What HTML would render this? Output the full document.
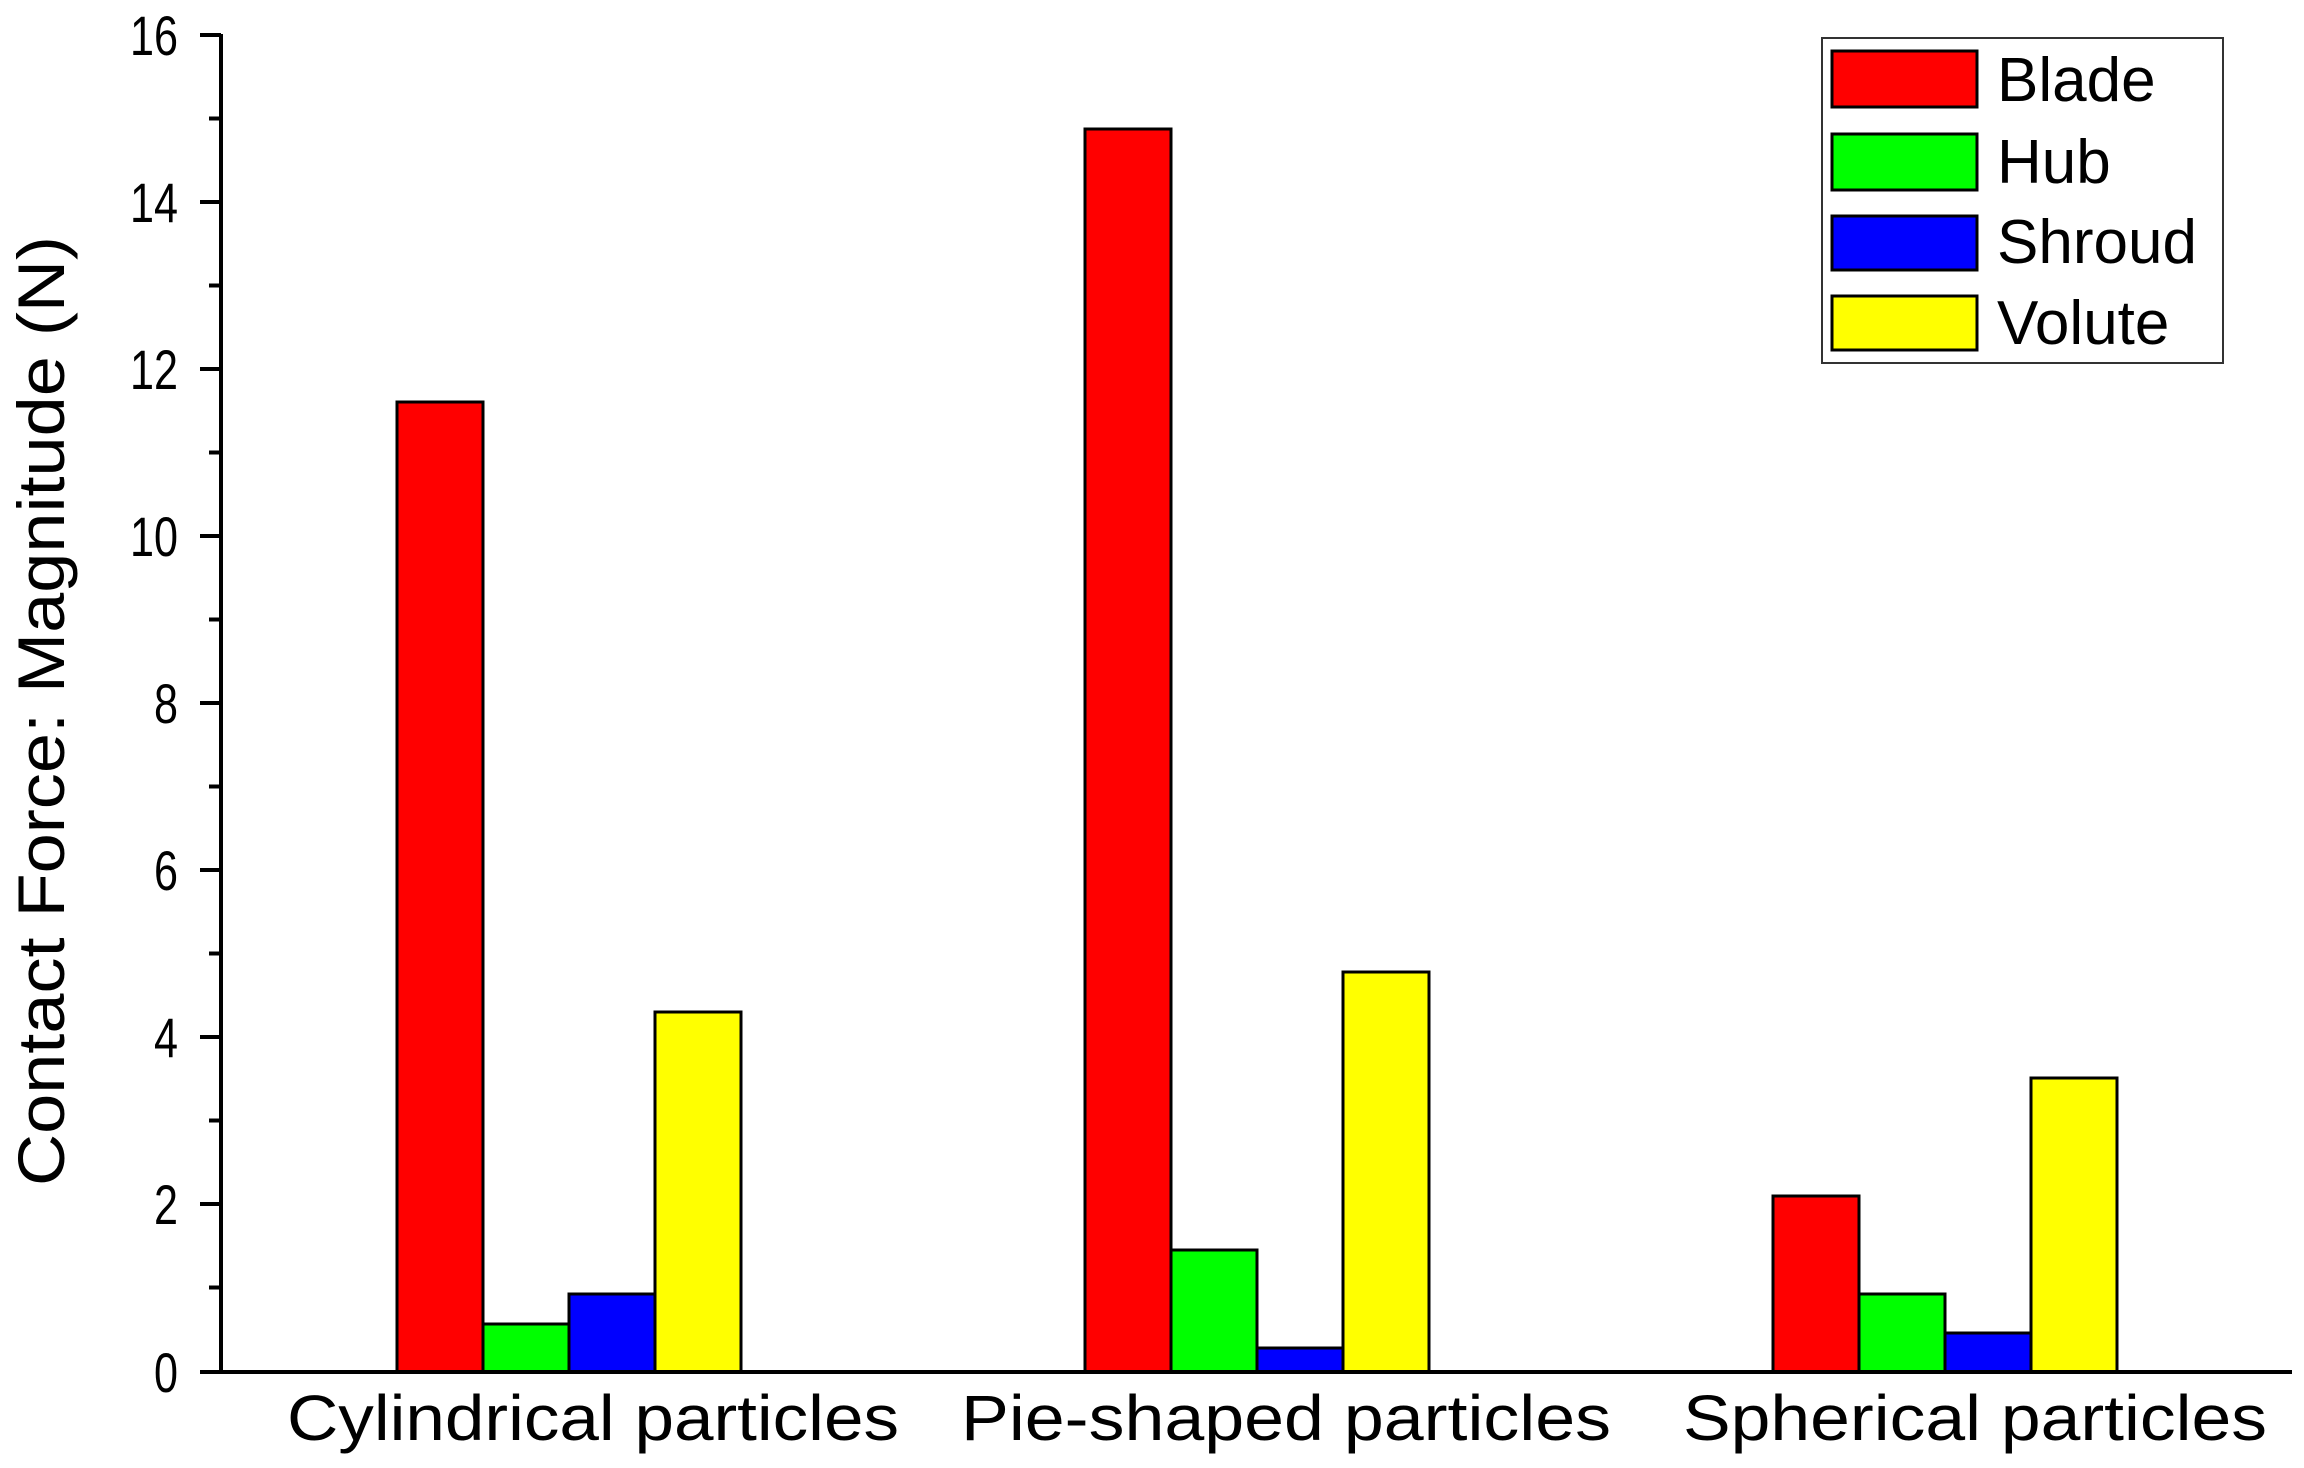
<!DOCTYPE html>
<html><head><meta charset="utf-8"><style>html,body{margin:0;padding:0;background:#fff}svg{display:block}</style></head>
<body>
<svg width="2304" height="1468" viewBox="0 0 2304 1468" xmlns="http://www.w3.org/2000/svg" font-family="Liberation Sans, Arial, sans-serif">
<rect width="2304" height="1468" fill="#fff"/>
<g stroke="#000" stroke-width="3">
<rect x="397" y="402" width="86" height="970" fill="#ff0000"/>
<rect x="483" y="1324" width="86" height="48" fill="#00ff00"/>
<rect x="569" y="1294" width="86" height="78" fill="#0000ff"/>
<rect x="655" y="1012" width="86" height="360" fill="#ffff00"/>
<rect x="1085" y="129" width="86" height="1243" fill="#ff0000"/>
<rect x="1171" y="1250" width="86" height="122" fill="#00ff00"/>
<rect x="1257" y="1348" width="86" height="24" fill="#0000ff"/>
<rect x="1343" y="972" width="86" height="400" fill="#ffff00"/>
<rect x="1773" y="1196" width="86" height="176" fill="#ff0000"/>
<rect x="1859" y="1294" width="86" height="78" fill="#00ff00"/>
<rect x="1945" y="1333" width="86" height="39" fill="#0000ff"/>
<rect x="2031" y="1078" width="86" height="294" fill="#ffff00"/>
</g>
<g stroke="#000" stroke-width="4" fill="none">
<line x1="221" y1="34" x2="221" y2="1374"/>
<line x1="200" y1="1372" x2="2292" y2="1372"/>
<line x1="200" y1="35" x2="221" y2="35"/><line x1="209" y1="118.5" x2="221" y2="118.5"/>
<line x1="200" y1="202" x2="221" y2="202"/><line x1="209" y1="285.5" x2="221" y2="285.5"/>
<line x1="200" y1="369" x2="221" y2="369"/><line x1="209" y1="452.5" x2="221" y2="452.5"/>
<line x1="200" y1="536" x2="221" y2="536"/><line x1="209" y1="619.5" x2="221" y2="619.5"/>
<line x1="200" y1="703" x2="221" y2="703"/><line x1="209" y1="786.5" x2="221" y2="786.5"/>
<line x1="200" y1="870" x2="221" y2="870"/><line x1="209" y1="953.5" x2="221" y2="953.5"/>
<line x1="200" y1="1037" x2="221" y2="1037"/><line x1="209" y1="1120.5" x2="221" y2="1120.5"/>
<line x1="200" y1="1204" x2="221" y2="1204"/><line x1="209" y1="1287.5" x2="221" y2="1287.5"/>
</g>
<g font-size="56" text-anchor="end" fill="#000">
<text x="178" y="55" textLength="48" lengthAdjust="spacingAndGlyphs">16</text>
<text x="178" y="222" textLength="48" lengthAdjust="spacingAndGlyphs">14</text>
<text x="178" y="389" textLength="48" lengthAdjust="spacingAndGlyphs">12</text>
<text x="178" y="556" textLength="48" lengthAdjust="spacingAndGlyphs">10</text>
<text x="178" y="723" textLength="24" lengthAdjust="spacingAndGlyphs">8</text>
<text x="178" y="890" textLength="24" lengthAdjust="spacingAndGlyphs">6</text>
<text x="178" y="1057" textLength="24" lengthAdjust="spacingAndGlyphs">4</text>
<text x="178" y="1224" textLength="24" lengthAdjust="spacingAndGlyphs">2</text>
<text x="178" y="1392" textLength="24" lengthAdjust="spacingAndGlyphs">0</text>
</g>
<g font-size="64" text-anchor="middle" fill="#000">
<text x="593" y="1440" textLength="612" lengthAdjust="spacingAndGlyphs">Cylindrical particles</text>
<text x="1286" y="1440" textLength="650" lengthAdjust="spacingAndGlyphs">Pie-shaped particles</text>
<text x="1975" y="1440" textLength="584" lengthAdjust="spacingAndGlyphs">Spherical particles</text>
</g>
<text transform="translate(64,711) rotate(-90)" font-size="66" text-anchor="middle" textLength="950" lengthAdjust="spacingAndGlyphs">Contact Force: Magnitude  (N)</text>
<rect x="1822" y="38" width="401" height="325" fill="#fff" stroke="#333" stroke-width="2"/>
<g stroke="#000" stroke-width="3">
<rect x="1832" y="51" width="145" height="56" fill="#ff0000"/>
<rect x="1832" y="134" width="145" height="56" fill="#00ff00"/>
<rect x="1832" y="216" width="145" height="54" fill="#0000ff"/>
<rect x="1832" y="296" width="145" height="54" fill="#ffff00"/>
</g>
<g font-size="62" fill="#000">
<text x="1997" y="101">Blade</text>
<text x="1997" y="183">Hub</text>
<text x="1997" y="263">Shroud</text>
<text x="1997" y="344">Volute</text>
</g>
</svg>
</body></html>
